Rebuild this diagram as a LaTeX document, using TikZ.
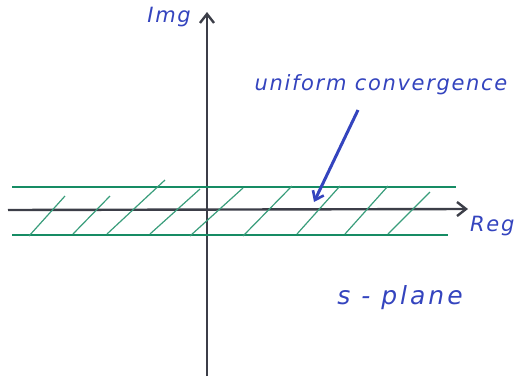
\documentclass[tikz,border=0pt]{standalone}
\usepackage{fontspec}
\setsansfont{DejaVu Sans}
\usetikzlibrary{arrows.meta, positioning}

\definecolor{inkblue}{RGB}{52,68,190}
\definecolor{inkgreen}{RGB}{22,140,100}
\definecolor{inkgray}{RGB}{60,62,72}

\begin{document}
\begin{tikzpicture}[
    x=1pt, y=-1pt,
    axis/.style={-{Straight Barb[length=9pt, width=14pt, line width=2.4pt]}, line width=2.4pt, inkgray},
    band/.style={line width=2.8pt, inkgreen},
    hatch/.style={line width=1.2pt, inkgreen!85},
    pointer/.style={-{Straight Barb[length=8pt, width=12pt, line width=2.6pt]}, line width=3pt, inkblue},
    lbl/.style={font=\sffamily\itshape\fontsize{21}{24}\selectfont\addfontfeatures{LetterSpace=8},
                text=inkblue, inner sep=0pt},
  ]
    \useasboundingbox (0,0) rectangle (523,378);

    % axes
    \coordinate (re0) at (8,210);
    \coordinate (re1) at (468,209);
    \coordinate (im0) at (207,376);
    \coordinate (im1) at (207,12);
    \draw[axis] (re0) -- (re1);
    \draw[axis] (im0) -- (im1);

    % band of uniform convergence
    \coordinate (tl) at (12,187);
    \coordinate (tr) at (456,187);
    \coordinate (bl) at (12,235);
    \coordinate (br) at (448,235);
    \draw[band] (tl) -- (tr);
    \draw[band] (bl) -- (br);

    % hatching
    \foreach \xa/\ya/\xb/\yb in {29/236/65/196, 73/234/110/196, 107/234/165/180,
        150/234/200/189, 190/236/243/188, 243/236/292/186, 297/234/340/186,
        345/234/388/186, 388/234/430/192}
      \draw[hatch] (\xa,\ya) -- (\xb,\yb);

    % labels
    \node[lbl, anchor=east] (img) at (191,17) {Img};
    \node[lbl, anchor=west] (reg) at (470,226) {Reg};
    \node[lbl] (conv) at (381,85) {uniform convergence};
    \node[lbl, font=\sffamily\itshape\fontsize{25}{28}\selectfont\addfontfeatures{LetterSpace=12}] (plane) at (400,298) {s - plane};

    % pointer to the band
    \coordinate (hit) at (314,202);
    \draw[pointer] (358,110) -- (hit);
\end{tikzpicture}
\end{document}
